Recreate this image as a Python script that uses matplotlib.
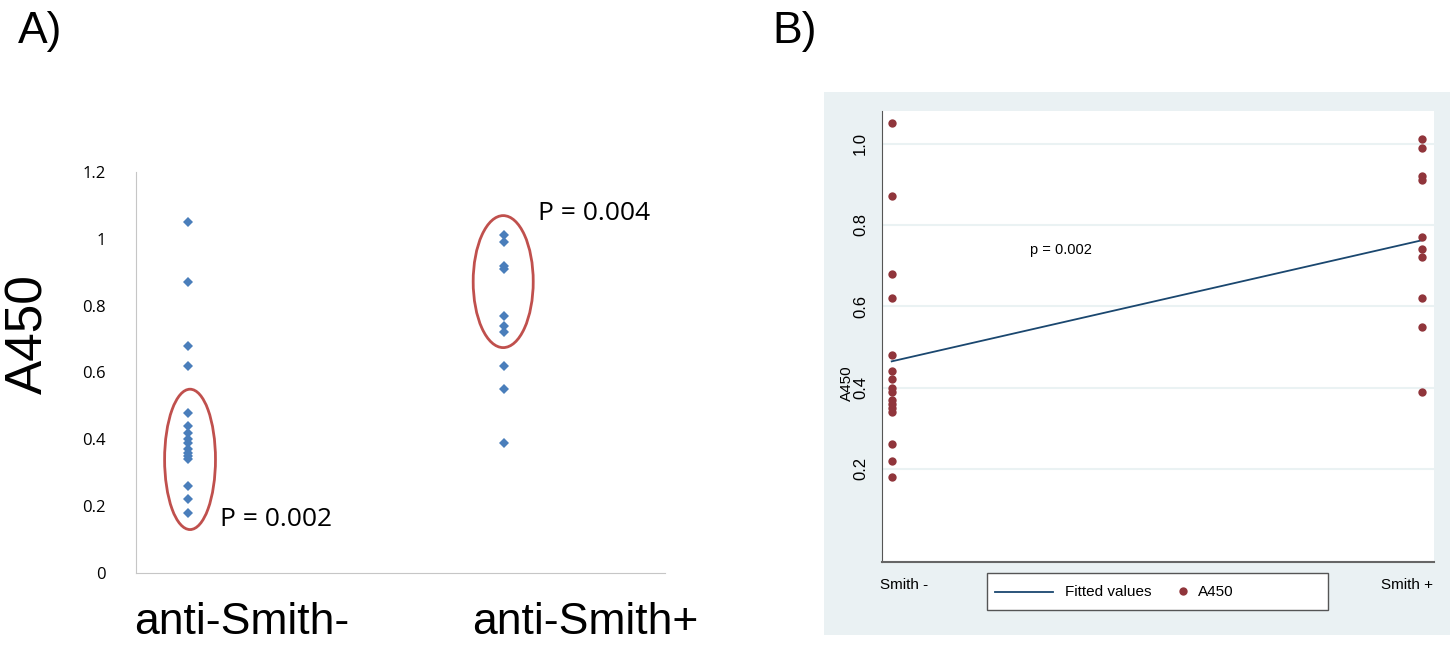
import numpy as np
import matplotlib.pyplot as plt
from matplotlib.patches import Ellipse, Rectangle
from matplotlib.lines import Line2D

# data
smith_neg = [1.05, 0.87, 0.68, 0.62, 0.48, 0.44, 0.42, 0.40, 0.39, 0.37, 0.36, 0.35, 0.34, 0.26, 0.22, 0.18]
smith_pos = [1.01, 0.99, 0.92, 0.91, 0.77, 0.74, 0.72, 0.62, 0.55, 0.39]
cat_a = ['anti-Smith-', 'anti-Smith+']
cat_b = ['Smith -', 'Smith +']
p_a = ['P = 0.002', 'P = 0.004']
p_b = 'p = 0.002'
ticks_a = [0, 0.2, 0.4, 0.6, 0.8, 1.0, 1.2]
ticklab_a = ['0', '0.2', '0.4', '0.6', '0.8', '1', '1.2']
ticks_b = [0.2, 0.4, 0.6, 0.8, 1.0]

W, H = 1453, 647
fig = plt.figure(figsize=(W/100, H/100), dpi=100)
fx = lambda px: px/W
fy = lambda py: 1 - py/H

# ---------------- panel A (excel style)
axA = fig.add_axes([fx(136), fy(573), fx(665)-fx(136), fy(172)-fy(573)])
axA.plot(np.ones(len(smith_neg)), smith_neg, 'D', color='#4a7ebb', ms=5, mew=0)
axA.plot(np.full(len(smith_pos), 2.0), smith_pos, 'D', color='#4a7ebb', ms=5, mew=0)
axA.set_xlim(0.835, 2.509)
axA.set_ylim(0, 1.2)
axA.add_patch(Ellipse((1.006, 0.34), 0.161, 0.42, fill=False, ec='#c0504d', lw=2))
axA.add_patch(Ellipse((1.997, 0.872), 0.19, 0.395, fill=False, ec='#c0504d', lw=2))
axA.text(1.101, 0.159, p_a[0], fontsize=19, family='Open Sans', va='center')
axA.text(2.107, 1.077, p_a[1], fontsize=19, family='Open Sans', va='center')
axA.set_yticks(ticks_a)
axA.set_yticklabels(ticklab_a, family='Open Sans', fontsize=12)
axA.tick_params(axis='y', length=0, pad=22)
axA.set_xticks([])
for s in ['top', 'right']:
    axA.spines[s].set_visible(False)
for s in ['left', 'bottom']:
    axA.spines[s].set_color('#c6c6c6')
fig.text(fx(242), fy(622), cat_a[0], fontsize=32, family='Liberation Sans', ha='center', va='center')
fig.text(fx(585), fy(622), cat_a[1], fontsize=32, family='Liberation Sans', ha='center', va='center')
fig.text(fx(29), fy(334), 'A450', fontsize=37, family='Liberation Sans', rotation=90, ha='center', va='center')
fig.text(fx(18), fy(31), 'A)', fontsize=32, family='Liberation Sans', va='center')
fig.text(fx(772), fy(31), 'B)', fontsize=32, family='Liberation Sans', va='center')

# ---------------- panel B (stata style)
fig.patches.append(Rectangle((fx(824), fy(635)), fx(1450)-fx(824), fy(92)-fy(635),
                             transform=fig.transFigure, fc='#eaf1f3', ec='none', zorder=-5))
axB = fig.add_axes([fx(882), fy(562), fx(1434)-fx(882), fy(111)-fy(562)])
xb = np.r_[np.zeros(len(smith_neg)), np.ones(len(smith_pos))]
yb = np.r_[smith_neg, smith_pos]
k, b = np.polyfit(xb, yb, 1)
axB.plot([0, 1], [b, k + b], color='#1a476f', lw=1.3, zorder=2)
axB.scatter(xb, yb, s=36, color='#90353b', lw=0, zorder=3)
axB.set_xlim(-0.0183, 1.0232)
axB.set_ylim(-0.029, 1.08)
axB.set_yticks(ticks_b)
axB.set_yticklabels(['%.1f' % t for t in ticks_b], rotation=90, va='center',
                    family='Liberation Sans', fontsize=12)
axB.tick_params(axis='y', length=0, pad=10)
axB.set_xticks([])
axB.grid(axis='y', color='#eaf2f3', lw=1.5)
axB.set_axisbelow(True)
for s in ['top', 'right']:
    axB.spines[s].set_visible(False)
axB.spines['left'].set_color('#555555')
axB.spines['bottom'].set_color('#666666')
axB.spines['bottom'].set_linewidth(1.5)
axB.text(0.261, 0.738, p_b, fontsize=10.5, family='Liberation Sans', va='center')
fig.text(fx(847), fy(383), 'A450', fontsize=11, family='Liberation Sans', rotation=90, ha='center', va='center')
fig.text(fx(880), fy(585), cat_b[0], fontsize=11, family='Liberation Sans', va='center')
fig.text(fx(1433), fy(585), cat_b[1], fontsize=11, family='Liberation Sans', ha='right', va='center')

# legend box
fig.patches.append(Rectangle((fx(987), fy(610)), fx(1328)-fx(987), fy(573)-fy(610),
                             transform=fig.transFigure, fc='white', ec='#555555', lw=1, zorder=1))
fig.lines.append(Line2D([fx(995), fx(1053)], [fy(592), fy(592)], transform=fig.transFigure,
                        color='#1a476f', lw=1.3, zorder=2))
fig.text(fx(1065), fy(592), 'Fitted values', fontsize=11, family='Liberation Sans', va='center')
fig.lines.append(Line2D([fx(1183)], [fy(591)], transform=fig.transFigure, marker='o', ms=6,
                        color='#90353b', mew=0, zorder=2))
fig.text(fx(1198), fy(592), 'A450', fontsize=11, family='Liberation Sans', va='center')

fig.savefig('out.png', dpi=100)
